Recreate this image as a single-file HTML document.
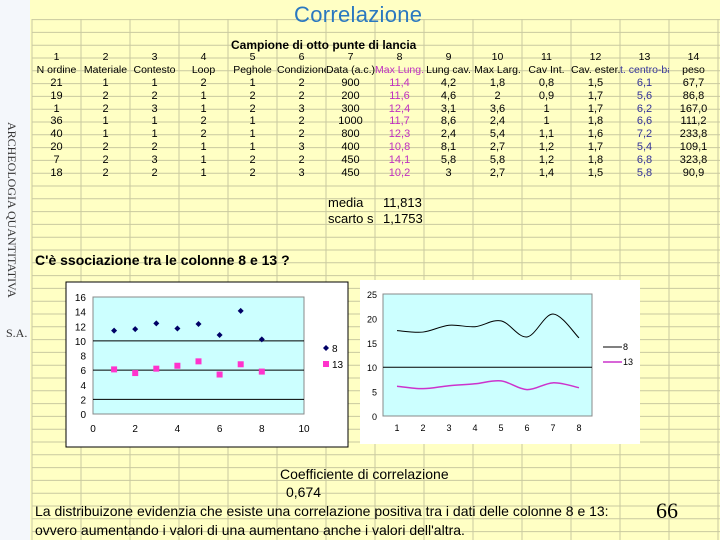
<!DOCTYPE html>
<html><head><meta charset="utf-8"><style>
body{margin:0;width:720px;height:540px;overflow:hidden;background:#fff;font-family:"Liberation Sans",sans-serif}
#root{position:relative;width:720px;height:540px}
.t{position:absolute;white-space:nowrap}
</style></head><body>
<div id="root">
<svg id="sheet" width="720" height="540" style="position:absolute;left:0;top:0"></svg>
<div class="t" style="left:4px;top:122px;font:12px 'Liberation Serif',serif;color:#333;writing-mode:vertical-rl;">ARCHEOLOGIA QUANTITATIVA</div>
<div class="t" style="left:6px;top:326px;font:12px 'Liberation Serif',serif;color:#333">S.A.</div>
<div class="t" style="left:294px;top:2px;font:22px 'Liberation Sans',sans-serif;color:#2a78c0;letter-spacing:0.3px">Correlazione</div>
<div class="t" style="left:231px;top:38px;font:bold 12px 'Liberation Sans',sans-serif">Campione di otto punte di lancia</div>
<div id="table"></div>
<div class="t" style="left:328px;top:195px;font:13px 'Liberation Sans',sans-serif">media</div>
<div class="t" style="left:328px;top:211px;font:13px 'Liberation Sans',sans-serif">scarto s</div>
<div class="t" style="left:383px;top:195px;font:13px 'Liberation Sans',sans-serif">11,813</div>
<div class="t" style="left:383px;top:211px;font:13px 'Liberation Sans',sans-serif">1,1753</div>
<div class="t" style="left:35px;top:252px;font:bold 14px 'Liberation Sans',sans-serif">C'è ssociazione tra le colonne 8 e 13 ?</div>
<svg id="scatter" width="720" height="540" style="position:absolute;left:0;top:0"></svg>
<svg id="linechart" width="720" height="540" style="position:absolute;left:0;top:0"></svg>
<div class="t" style="left:280px;top:466px;font:14px 'Liberation Sans',sans-serif">Coefficiente di correlazione</div>
<div class="t" style="left:286px;top:484px;font:14px 'Liberation Sans',sans-serif">0,674</div>
<div class="t" style="left:35px;top:503px;font:14px 'Liberation Sans',sans-serif">La distribuizone evidenzia che esiste una correlazione positiva tra i dati delle colonne 8  e 13:</div>
<div class="t" style="left:35px;top:522px;font:14px 'Liberation Sans',sans-serif">ovvero aumentando i valori di una aumentano anche i valori dell'altra.</div>
<div class="t" style="left:656px;top:498px;font:22px 'Liberation Serif',serif">66</div>
</div>
<script>
const NS="http://www.w3.org/2000/svg";
function mk(p,tag,a,txt){const e=document.createElementNS(NS,tag);for(const k in a)e.setAttribute(k,a[k]);if(txt!==undefined)e.textContent=txt;p.appendChild(e);return e;}
const sh=document.getElementById('sheet');
let bg=mk(sh,'rect',{x:30,y:0,width:690,height:540,fill:'#ffffc4'});


mk(sh,'rect',{x:0,y:0,width:30,height:540,fill:'#f4f7fb'});
for(let i=0;i<15;i++){mk(sh,'line',{x1:32+49*i,y1:19,x2:32+49*i,y2:540,stroke:'#c9c9a0','stroke-width':1});}
for(let y=19.6;y<540;y+=12.8){mk(sh,'line',{x1:32,y1:y,x2:720,y2:y,stroke:'#c9c9a0','stroke-width':1});}
const colNums=['1','2','3','4','5','6','7','8','9','10','11','12','13','14'];
const colHeads=['N ordine','Materiale','Contesto','Loop','Peghole','Condizione','Data (a.c.)','Max Lung.','Lung cav.','Max Larg.','Cav Int.','Cav. ester.','t. centro-ba','peso'];
const rows=[
['21','1','1','2','1','2','900','11,4','4,2','1,8','0,8','1,5','6,1','67,7'],
['19','2','2','1','2','2','200','11,6','4,6','2','0,9','1,7','5,6','86,8'],
['1','2','3','1','2','3','300','12,4','3,1','3,6','1','1,7','6,2','167,0'],
['36','1','1','2','1','2','1000','11,7','8,6','2,4','1','1,8','6,6','111,2'],
['40','1','1','2','1','2','800','12,3','2,4','5,4','1,1','1,6','7,2','233,8'],
['20','2','2','1','1','3','400','10,8','8,1','2,7','1,2','1,7','5,4','109,1'],
['7','2','3','1','2','2','450','14,1','5,8','5,8','1,2','1,8','6,8','323,8'],
['18','2','2','1','2','3','450','10,2','3','2,7','1,4','1,5','5,8','90,9']];
const tb=document.getElementById('table');
function cell(txt,c,top,name,extra){const d=document.createElement('div');d.className='t';d.textContent=txt;
d.style.cssText=`left:${32+49*c}px;width:49px;text-align:center;top:${top}px;font:10.5px 'Liberation Sans',sans-serif;overflow:hidden;${extra||''}`;


tb.appendChild(d);}
const colColor=c=>c===7?'color:#c030c0;':c===12?'color:#333399;':'';
colNums.forEach((t,c)=>cell(t,c,51,'column-number'));
colHeads.forEach((t,c)=>cell(t,c,64,'column-header',colColor(c)));
rows.forEach((r,i)=>r.forEach((t,c)=>cell(t,c,77+12.8*i,'table-cell',colColor(c)+'font-size:11px;')));
const cats=[1,2,3,4,5,6,7,8];
const s8=[11.4,11.6,12.4,11.7,12.3,10.8,14.1,10.2];
const s13=[6.1,5.6,6.2,6.6,7.2,5.4,6.8,5.8];
const yTicks=[0,2,4,6,8,10,12,14,16];
const xTicks=[0,2,4,6,8,10];
const lyTicks=[0,5,10,15,20,25];
const sc=document.getElementById('scatter');
const SX=v=>93+v*(304-93)/10, SY=v=>414-v*(414-297)/16;
mk(sc,'rect',{x:66,y:282,width:282,height:165,fill:'#fff',stroke:'#000'});
let pa=mk(sc,'rect',{x:93,y:297,width:211,height:117,fill:'#ccffff',stroke:'#888'});


[2,6,10].forEach(v=>mk(sc,'line',{x1:93,x2:304,y1:SY(v),y2:SY(v),stroke:'#000'}));
yTicks.forEach(v=>{let t=mk(sc,'text',{x:86,y:SY(v)+4,'text-anchor':'end','font-size':10,'font-family':'Liberation Sans'},v);

});
xTicks.forEach(v=>{let t=mk(sc,'text',{x:SX(v),y:432,'text-anchor':'middle','font-size':10,'font-family':'Liberation Sans'},v);

});
cats.forEach((c,i)=>{const x=SX(c),y=SY(s8[i]);
let p=mk(sc,'polygon',{points:`${x},${y-3} ${x+3},${y} ${x},${y+3} ${x-3},${y}`,fill:'#000066'});


let q=mk(sc,'rect',{x:SX(c)-3,y:SY(s13[i])-3,width:6,height:6,fill:'#ff33cc'});

});
mk(sc,'polygon',{points:'326,345 329,348 326,351 323,348',fill:'#000066'});
mk(sc,'text',{x:332,y:352,'font-size':10,'font-family':'Liberation Sans'},'8');
mk(sc,'rect',{x:323,y:361,width:6,height:6,fill:'#ff33cc'});
mk(sc,'text',{x:332,y:368,'font-size':10,'font-family':'Liberation Sans'},'13');
const lc=document.getElementById('linechart');
const LX=c=>397+(c-1)*26, LY=v=>416-v*(416-294)/25;
mk(lc,'rect',{x:360,y:280,width:280,height:164,fill:'#fff'});
let pb=mk(lc,'rect',{x:383,y:294,width:209,height:122,fill:'#ccffff',stroke:'#888'});


mk(lc,'line',{x1:383,x2:592,y1:LY(10),y2:LY(10),stroke:'#000'});
lyTicks.forEach(v=>{let t=mk(lc,'text',{x:377,y:LY(v)+4,'text-anchor':'end','font-size':9,'font-family':'Liberation Sans'},v);

});
cats.forEach(c=>{let t=mk(lc,'text',{x:LX(c),y:431,'text-anchor':'middle','font-size':9,'font-family':'Liberation Sans'},c);

});
function smooth(pts){let d=`M${pts[0][0]},${pts[0][1]}`;for(let i=0;i<pts.length-1;i++){const p0=pts[i-1]||pts[i],p1=pts[i],p2=pts[i+1],p3=pts[i+2]||p2;
d+=` C${p1[0]+(p2[0]-p0[0])/6},${p1[1]+(p2[1]-p0[1])/6} ${p2[0]-(p3[0]-p1[0])/6},${p2[1]-(p3[1]-p1[1])/6} ${p2[0]},${p2[1]}`;}return d;}
const top8=cats.map((c,i)=>[LX(c),LY(s8[i]+s13[i])]);
const bot13=cats.map((c,i)=>[LX(c),LY(s13[i])]);
let l1=mk(lc,'path',{d:smooth(top8),fill:'none',stroke:'#000','stroke-width':1});


let l2=mk(lc,'path',{d:smooth(bot13),fill:'none',stroke:'#cc33cc','stroke-width':1.5});


mk(lc,'line',{x1:603,x2:622,y1:347,y2:347,stroke:'#000'});
mk(lc,'text',{x:623,y:350,'font-size':9,'font-family':'Liberation Sans'},'8');
mk(lc,'line',{x1:603,x2:622,y1:362,y2:362,stroke:'#cc33cc','stroke-width':1.5});
mk(lc,'text',{x:623,y:365,'font-size':9,'font-family':'Liberation Sans'},'13');
</script>
</body></html>
